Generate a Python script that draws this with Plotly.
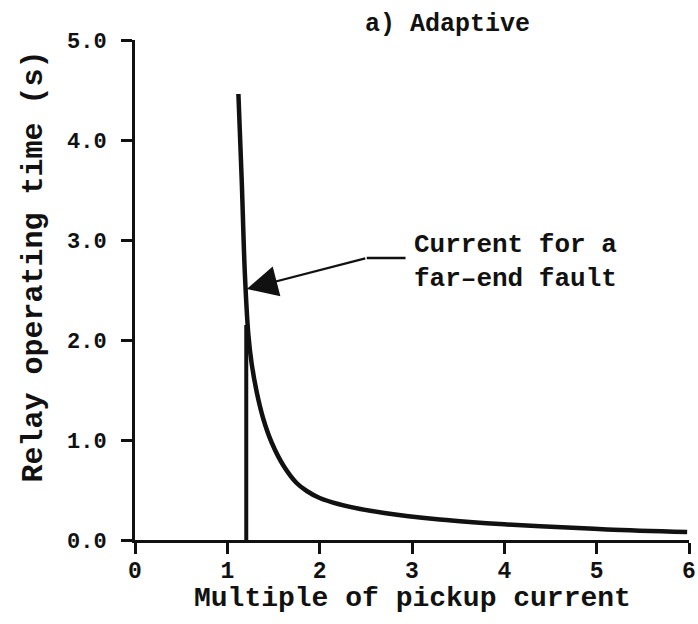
import plotly.graph_objects as go

# Inverse-time relay characteristic (operating time vs. multiple of pickup)
curve_x = [1.12, 1.156, 1.19, 1.228, 1.264, 1.318, 1.39, 1.48, 1.607, 1.75,
           1.86, 2.0, 2.2, 2.44, 2.7, 2.94, 3.3, 3.66, 4.0, 4.39, 5.11, 5.98]
curve_y = [4.46, 3.59, 2.66, 2.05, 1.76, 1.48, 1.21, 0.975, 0.745, 0.57,
           0.49, 0.42, 0.36, 0.31, 0.27, 0.24, 0.205, 0.178, 0.157, 0.137, 0.106, 0.08]

# Fault current marker for a far-end fault
fault_x = [1.205, 1.205]
fault_y = [0.0, 2.15]

x_ticks = [0, 1, 2, 3, 4, 5, 6]
y_ticks = [0.0, 1.0, 2.0, 3.0, 4.0, 5.0]

ink = "#111111"
mono = "Liberation Mono"

fig = go.Figure()
fig.add_trace(go.Scatter(x=curve_x, y=curve_y, mode="lines",
                         line=dict(color=ink, width=4.5, shape="spline", smoothing=1.0),
                         showlegend=False, hoverinfo="skip"))
fig.add_trace(go.Scatter(x=fault_x, y=fault_y, mode="lines",
                         line=dict(color=ink, width=4),
                         showlegend=False, hoverinfo="skip"))

# Callout: leader line with bend, arrow to the curve, and label
fig.add_shape(type="line", x0=2.51, y0=2.82, x1=2.93, y1=2.82,
              line=dict(color=ink, width=2.5))
fig.add_annotation(x=1.21, y=2.51, ax=2.51, ay=2.82, xref="x", yref="y",
                   axref="x", ayref="y", text="", showarrow=True,
                   arrowhead=2, arrowsize=2.8, arrowwidth=2.2, arrowcolor=ink)
fig.add_annotation(x=3.0, y=2.78, xref="x", yref="y", xanchor="left",
                   yanchor="middle", align="left", showarrow=False,
                   text="Current for a<br>far\u2013end fault",
                   font=dict(family=mono, size=26, color=ink, weight="bold"))

# Panel title
fig.add_annotation(x=3.38, y=1.031, xref="x", yref="paper", showarrow=False,
                   text="a) Adaptive", xanchor="center", yanchor="middle",
                   font=dict(family=mono, size=25, color=ink, weight="bold"))

# Axis titles
fig.add_annotation(x=-0.184, y=0.547, xref="paper", yref="paper", showarrow=False,
                   text="Relay operating time (s)", textangle=-90,
                   xanchor="center", yanchor="middle",
                   font=dict(family=mono, size=30, color=ink, weight="bold"))
fig.add_annotation(x=0.5, y=-0.118, xref="paper", yref="paper", showarrow=False,
                   text="Multiple of pickup current",
                   xanchor="center", yanchor="middle",
                   font=dict(family=mono, size=28, color=ink, weight="bold"))

fig.update_xaxes(range=[0, 6], tickvals=x_ticks, ticktext=[str(v) for v in x_ticks],
                 showline=True, linewidth=3, linecolor=ink, ticks="outside",
                 ticklen=11, tickwidth=2.5, tickcolor=ink, showgrid=False,
                 zeroline=False, ticklabelstandoff=-4, automargin=False,
                 tickfont=dict(family=mono, size=23, color=ink, weight="bold"))
fig.update_yaxes(range=[0, 5], tickvals=y_ticks, ticktext=[f"{v:.1f}" for v in y_ticks],
                 showline=True, linewidth=3, linecolor=ink, ticks="outside",
                 ticklen=11, tickwidth=2.5, tickcolor=ink, showgrid=False,
                 zeroline=False, ticklabelstandoff=10, automargin=False,
                 tickfont=dict(family=mono, size=22, color=ink, weight="bold"))

fig.update_layout(width=698, height=624, margin=dict(l=135, r=9, t=40, b=84),
                  plot_bgcolor="white", paper_bgcolor="white")

fig.write_html("out.html")
